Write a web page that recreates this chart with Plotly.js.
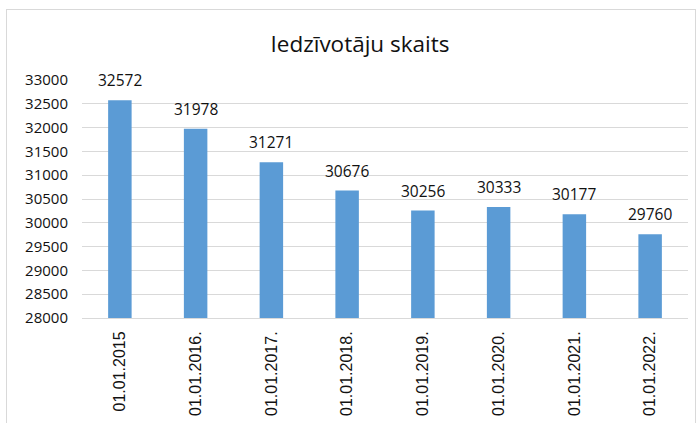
<!DOCTYPE html>
<html>
<head>
<meta charset="utf-8">
<script src="https://cdn.plot.ly/plotly-3.0.1.min.js"></script>
<style>
html,body{margin:0;padding:0;background:#fff;}
#wrap{position:relative;width:699px;height:423px;overflow:hidden;}
#chart{width:699px;height:423px;}
#frame{position:absolute;left:6px;top:9px;width:690px;height:430px;border:1px solid #d9d9d9;box-sizing:border-box;pointer-events:none;}
</style>
</head>
<body>
<div id="wrap"><div id="chart"></div><div id="frame"></div></div>
<script>
const categories = ["01.01.2015","01.01.2016.","01.01.2017.","01.01.2018.","01.01.2019.","01.01.2020.","01.01.2021.","01.01.2022."];
const population = [32572, 31978, 31271, 30676, 30256, 30333, 30177, 29760];
const yTicks = [28000,28500,29000,29500,30000,30500,31000,31500,32000,32500,33000];

const trace = {
  type: 'bar',
  x: categories,
  y: population,
  marker: {color: '#5B9BD5', line: {width: 0}},
  hoverinfo: 'none'
};

const annotations = categories.map((c, i) => ({
  x: c, y: population[i], xref: 'x', yref: 'y',
  text: String(population[i]), showarrow: false,
  yanchor: 'bottom', yshift: 7,
  font: {family: 'Open Sans, sans-serif', size: 15.5, color: '#111'}
}));

const layout = {
  width: 699, height: 423,
  margin: {l: 82, r: 11, t: 80, b: 105},
  paper_bgcolor: 'rgba(0,0,0,0)',
  plot_bgcolor: '#fff',
  title: {text: 'Iedzīvotāju skaits', x: 0.515, xanchor: 'center', y: 0.895, yanchor: 'middle',
          font: {family: 'Open Sans, sans-serif', size: 22.5, color: '#111'}},
  bargap: 0.69,
  showlegend: false,
  xaxis: {
    type: 'category',
    tickangle: -90,
    showgrid: false,
    showline: true, linecolor: '#d9d9d9', linewidth: 1,
    ticks: '', ticklen: 0,
    ticklabelstandoff: 6,
    tickfont: {family: 'Liberation Sans, Arial, sans-serif', size: 16, color: '#111'}
  },
  yaxis: {
    range: [28000, 33000],
    tickvals: yTicks,
    ticktext: yTicks.map(String),
    showgrid: true, gridcolor: '#d9d9d9', gridwidth: 1,
    zeroline: false, showline: false,
    ticks: '',
    ticklabelstandoff: 13,
    tickfont: {family: 'Open Sans, sans-serif', size: 15, color: '#111'}
  },
  annotations: annotations
};

Plotly.newPlot('chart', [trace], layout, {displayModeBar: false, staticPlot: true});
</script>
</body>
</html>
